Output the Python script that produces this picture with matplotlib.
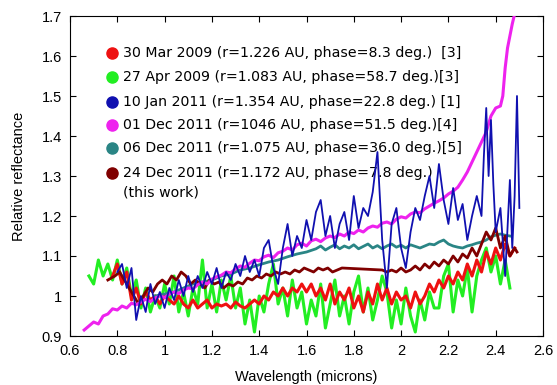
import matplotlib
matplotlib.use('Agg')
import matplotlib.pyplot as plt
import numpy as np
from matplotlib.ticker import FormatStrFormatter

# ---- data ----
# 01 Dec 2011 (magenta)
wl_mag = [0.66, 0.68, 0.70, 0.72, 0.74, 0.76, 0.78, 0.80, 0.82, 0.84, 0.86, 0.88, 0.90, 0.92, 0.94, 0.96,
          0.98, 1.00, 1.02, 1.04, 1.06, 1.08, 1.10, 1.12, 1.14, 1.16, 1.18, 1.20, 1.22, 1.24, 1.26, 1.28,
          1.30, 1.32, 1.34, 1.36, 1.38, 1.40, 1.42, 1.44, 1.46, 1.48, 1.50, 1.52, 1.54, 1.56, 1.58, 1.60,
          1.62, 1.64, 1.66, 1.68, 1.70, 1.72, 1.74, 1.76, 1.78, 1.80, 1.82, 1.84, 1.86, 1.88, 1.90, 1.92,
          1.94, 1.96, 1.98, 2.00, 2.02, 2.04, 2.06, 2.08, 2.10, 2.12, 2.14, 2.16, 2.18, 2.20, 2.22, 2.24,
          2.26, 2.28, 2.30, 2.32, 2.34, 2.36, 2.38, 2.40, 2.42, 2.43, 2.44, 2.45, 2.47, 2.49]
rf_mag = [0.915, 0.925, 0.935, 0.930, 0.950, 0.955, 0.968, 0.965, 0.975, 0.970, 0.982, 0.978, 0.985, 0.992, 0.986, 0.995,
          1.000, 0.996, 1.005, 1.010, 1.006, 1.015, 1.020, 1.018, 1.028, 1.035, 1.030, 1.042, 1.048, 1.052, 1.060, 1.058,
          1.068, 1.075, 1.072, 1.082, 1.090, 1.088, 1.098, 1.102, 1.096, 1.108, 1.112, 1.120, 1.115, 1.128, 1.132, 1.125,
          1.138, 1.142, 1.136, 1.145, 1.150, 1.146, 1.155, 1.150, 1.160, 1.156, 1.165, 1.160, 1.170, 1.175, 1.172, 1.182,
          1.185, 1.180, 1.192, 1.198, 1.195, 1.205, 1.210, 1.208, 1.218, 1.225, 1.232, 1.238, 1.245, 1.255, 1.262, 1.272,
          1.290, 1.310, 1.335, 1.360, 1.385, 1.410, 1.450, 1.470, 1.475, 1.500, 1.570, 1.620, 1.680, 1.730]

# 10 Jan 2011 (blue)
wl_blue = [0.80, 0.82, 0.84, 0.86, 0.88, 0.90, 0.92, 0.94, 0.96, 0.98, 1.00, 1.02, 1.04, 1.06, 1.08, 1.10,
           1.12, 1.14, 1.16, 1.18, 1.20, 1.22, 1.24, 1.26, 1.28, 1.30, 1.32, 1.34, 1.36, 1.38, 1.40, 1.42,
           1.44, 1.46, 1.48, 1.50, 1.52, 1.54, 1.56, 1.58, 1.60, 1.62, 1.64, 1.66, 1.68, 1.70, 1.72, 1.74,
           1.76, 1.78, 1.80, 1.82, 1.84, 1.86, 1.88, 1.90, 1.92, 1.94, 1.96, 1.98, 2.00, 2.02, 2.04, 2.06,
           2.08, 2.10, 2.12, 2.14, 2.16, 2.18, 2.20, 2.22, 2.24, 2.26, 2.28, 2.30, 2.32, 2.34, 2.35, 2.36,
           2.37, 2.38, 2.39, 2.40, 2.42, 2.44, 2.46, 2.47, 2.48, 2.49, 2.50]
rf_blue = [1.06, 1.08, 1.02, 1.07, 0.94, 1.00, 0.96, 1.03, 0.98, 1.01, 0.97, 1.02, 0.99, 1.04, 1.00, 1.05,
           1.01, 1.05, 1.02, 1.06, 1.03, 1.07, 1.02, 1.06, 1.04, 1.08, 1.05, 1.10, 1.06, 1.09, 1.05, 1.12,
           1.14, 1.07, 1.03, 1.12, 1.18, 1.10, 1.15, 1.12, 1.19, 1.14, 1.21, 1.24, 1.15, 1.20, 1.12, 1.18,
           1.21, 1.14, 1.25, 1.17, 1.22, 1.20, 1.26, 1.36, 1.14, 1.02, 1.18, 1.22, 1.12, 1.07, 1.16, 1.22,
           1.19, 1.25, 1.30, 1.22, 1.33, 1.24, 1.18, 1.27, 1.19, 1.23, 1.14, 1.20, 1.25, 1.20, 1.35, 1.47,
           1.30, 1.44, 1.28, 1.16, 1.22, 1.05, 1.29, 1.12, 1.25, 1.50, 1.22]

# 30 Mar 2009 (red)
wl_red = [0.78, 0.80, 0.82, 0.84, 0.86, 0.88, 0.90, 0.92, 0.94, 0.96, 0.98, 1.00, 1.02, 1.04, 1.06, 1.08,
          1.10, 1.12, 1.14, 1.16, 1.18, 1.20, 1.22, 1.24, 1.26, 1.28, 1.30, 1.32, 1.34, 1.36, 1.38, 1.40,
          1.42, 1.44, 1.46, 1.48, 1.50, 1.52, 1.54, 1.56, 1.58, 1.60, 1.62, 1.64, 1.66, 1.68, 1.70, 1.72,
          1.74, 1.76, 1.78, 1.80, 1.82, 1.84, 1.86, 1.88, 1.90, 1.92, 1.94, 1.96, 1.98, 2.00, 2.02, 2.04,
          2.06, 2.08, 2.10, 2.12, 2.14, 2.16, 2.18, 2.20, 2.22, 2.24, 2.26, 2.28, 2.30, 2.32, 2.34, 2.36,
          2.38, 2.40, 2.42, 2.44, 2.46, 2.48]
rf_red = [1.05, 1.08, 1.03, 1.06, 0.99, 1.02, 0.98, 1.01, 0.99, 1.00, 0.98, 1.00, 0.99, 0.98, 1.00, 0.98,
          0.97, 0.99, 0.97, 0.98, 0.99, 0.97, 0.98, 0.975, 0.98, 0.97, 0.985, 0.975, 0.97, 0.98, 0.99, 0.98,
          1.00, 0.99, 1.01, 1.00, 1.02, 1.00, 1.02, 1.01, 1.03, 1.01, 1.03, 1.00, 1.02, 0.99, 1.03, 0.98,
          1.01, 0.99, 1.02, 0.97, 1.00, 0.96, 1.01, 0.98, 1.03, 0.99, 1.02, 0.98, 1.01, 0.99, 1.00, 0.97,
          1.01, 0.98, 1.00, 1.03, 1.01, 1.04, 1.02, 1.05, 1.03, 1.06, 1.04, 1.08, 1.05, 1.09, 1.06, 1.11,
          1.08, 1.12, 1.09, 1.13, 1.10, 1.12]

# 27 Apr 2009 (green)
wl_green = [0.68, 0.70, 0.72, 0.74, 0.76, 0.78, 0.80, 0.82, 0.84, 0.86, 0.88, 0.90, 0.92, 0.94, 0.96, 0.98,
            1.00, 1.02, 1.04, 1.06, 1.08, 1.10, 1.12, 1.14, 1.16, 1.18, 1.20, 1.22, 1.24, 1.26, 1.28, 1.30,
            1.32, 1.34, 1.36, 1.38, 1.40, 1.42, 1.44, 1.46, 1.48, 1.50, 1.52, 1.54, 1.56, 1.58, 1.60, 1.62,
            1.64, 1.66, 1.68, 1.70, 1.72, 1.74, 1.76, 1.78, 1.80, 1.82, 1.84, 1.86, 1.88, 1.90, 1.92, 1.94,
            1.96, 1.98, 2.00, 2.02, 2.04, 2.06, 2.08, 2.10, 2.12, 2.14, 2.16, 2.18, 2.20, 2.22, 2.24, 2.26,
            2.28, 2.30, 2.32, 2.34, 2.36, 2.38, 2.40, 2.42, 2.44, 2.46]
rf_green = [1.05, 1.03, 1.09, 1.05, 1.08, 1.04, 1.09, 1.03, 1.07, 1.00, 1.04, 0.97, 1.02, 0.96, 1.00, 0.97,
            1.03, 0.98, 1.05, 0.96, 1.01, 0.95, 1.02, 0.98, 1.09, 0.97, 1.03, 0.96, 1.04, 0.99, 1.05, 0.97,
            1.02, 0.93, 0.99, 0.91, 1.00, 0.96, 1.03, 1.08, 0.98, 1.02, 0.95, 1.04, 0.97, 1.01, 0.93, 0.99,
            0.95, 1.03, 0.92, 0.98, 1.04, 0.95, 1.00, 0.93, 1.01, 1.05, 0.96, 1.02, 0.94, 0.99, 1.05, 1.01,
            0.92, 0.99, 0.93, 1.02, 0.95, 0.91, 0.99, 0.94, 1.01, 0.97, 0.97, 1.05, 1.08, 0.96, 1.04, 1.00,
            1.07, 0.96, 1.05, 1.09, 1.12, 1.06, 1.10, 1.03, 1.09, 1.02]

# 06 Dec 2011 (teal)
wl_teal = [0.96, 1.00, 1.04, 1.08, 1.12, 1.16, 1.20, 1.24, 1.28, 1.32, 1.36, 1.40, 1.44, 1.48, 1.52, 1.56,
           1.60, 1.64, 1.66, 1.68, 1.70, 1.72, 1.74, 1.76, 1.78, 1.80, 1.82, 1.84, 1.86, 1.88, 1.90, 1.92,
           1.94, 1.96, 1.98, 2.00, 2.02, 2.04, 2.06, 2.08, 2.10, 2.12, 2.14, 2.16, 2.18, 2.20, 2.22, 2.24,
           2.26, 2.28, 2.30, 2.32, 2.34, 2.36, 2.38, 2.40, 2.42, 2.44, 2.46]
rf_teal = [1.000, 1.005, 1.010, 1.020, 1.030, 1.035, 1.040, 1.050, 1.055, 1.065, 1.070, 1.078, 1.085, 1.090, 1.098, 1.105,
           1.110, 1.118, 1.125, 1.115, 1.122, 1.128, 1.118, 1.125, 1.120, 1.128, 1.118, 1.124, 1.130, 1.120, 1.126, 1.118,
           1.125, 1.130, 1.122, 1.127, 1.120, 1.128, 1.124, 1.120, 1.125, 1.130, 1.128, 1.135, 1.140, 1.130, 1.125, 1.122,
           1.120, 1.125, 1.128, 1.132, 1.135, 1.140, 1.148, 1.152, 1.155, 1.152, 1.150]

# 24 Dec 2011 (dark red, this work)
wl_dark = [0.76, 0.79, 0.81, 0.83, 0.85, 0.87, 0.89, 0.91, 0.93, 0.95, 0.97, 0.99, 1.01, 1.03, 1.05, 1.07,
           1.09, 1.11, 1.13, 1.15, 1.17, 1.19, 1.21, 1.23, 1.25, 1.27, 1.29, 1.31, 1.33, 1.35, 1.37, 1.39,
           1.41, 1.43, 1.45, 1.47, 1.49, 1.51, 1.53, 1.55, 1.57, 1.59, 1.61, 1.63, 1.65, 1.67, 1.69, 1.71,
           1.73, 1.75, 1.92, 1.94, 1.96, 1.98, 2.00, 2.02, 2.04, 2.06, 2.08, 2.10, 2.12, 2.14, 2.16, 2.18,
           2.20, 2.22, 2.24, 2.26, 2.28, 2.30, 2.32, 2.34, 2.36, 2.38, 2.40, 2.42, 2.44, 2.46, 2.48, 2.49]
rf_dark = [1.04, 1.05, 1.06, 1.04, 1.02, 1.00, 0.98, 1.00, 1.02, 1.01, 1.03, 1.04, 1.03, 1.05, 1.04, 1.06,
           1.05, 1.03, 1.04, 1.03, 1.02, 1.04, 1.03, 1.035, 1.02, 1.03, 1.025, 1.035, 1.03, 1.045, 1.04, 1.05,
           1.045, 1.055, 1.05, 1.06, 1.055, 1.06, 1.055, 1.065, 1.06, 1.07, 1.065, 1.06, 1.07, 1.065, 1.07, 1.06,
           1.065, 1.07, 1.065, 1.06, 1.065, 1.06, 1.07, 1.06, 1.065, 1.075, 1.065, 1.08, 1.07, 1.085, 1.075, 1.09,
           1.08, 1.10, 1.085, 1.105, 1.095, 1.12, 1.10, 1.13, 1.16, 1.14, 1.17, 1.12, 1.15, 1.10, 1.12, 1.11]

labels = ['30 Mar 2009 (r=1.226 AU, phase=8.3 deg.)  [3]',
          '27 Apr 2009 (r=1.083 AU, phase=58.7 deg.)[3]',
          '10 Jan 2011 (r=1.354 AU, phase=22.8 deg.) [1]',
          '01 Dec 2011 (r=1046 AU, phase=51.5 deg.)[4]',
          '06 Dec 2011 (r=1.075 AU, phase=36.0 deg.)[5]',
          '24 Dec 2011 (r=1.172 AU, phase=7.8 deg.)']
note = '(this work)'
colors = ['#ee1111', '#22ee22', '#1010b0', '#ee22ee', '#2a8585', '#800000']

fig = plt.figure(figsize=(5.57, 3.85), dpi=100)
ax = fig.add_axes([70/557, 49/385, 473/557, 320/385])

ax.plot(wl_green, rf_green, color=colors[1], lw=2.2, zorder=3)
ax.plot(wl_red, rf_red, color=colors[0], lw=2.2, zorder=3)
ax.plot(wl_teal, rf_teal, color=colors[4], lw=2.0, zorder=3)
ax.plot(wl_dark, rf_dark, color=colors[5], lw=2.0, zorder=3)
ax.plot(wl_mag, rf_mag, color=colors[3], lw=2.2, zorder=3)
ax.plot(wl_blue, rf_blue, color=colors[2], lw=1.3, zorder=4)

# hand-made legend: dots + text
row_y = [0.884, 0.809, 0.731, 0.659, 0.5875, 0.509]
for c, lab, yy in zip(colors, labels, row_y):
    ax.plot([0.0888], [yy], 'o', color=c, ms=8, transform=ax.transAxes, zorder=2, clip_on=False)
    ax.text(0.112, yy, lab, transform=ax.transAxes, fontsize=10.2, family='DejaVu Sans',
            va='center', ha='left', zorder=1)
ax.text(0.112, 0.447, note, transform=ax.transAxes, fontsize=10.2, family='DejaVu Sans',
        va='center', ha='left', zorder=1)

ax.set_xlim(0.6, 2.6)
ax.set_ylim(0.9, 1.7)
ax.set_xticks([0.6, 0.8, 1.0, 1.2, 1.4, 1.6, 1.8, 2.0, 2.2, 2.4, 2.6])
ax.set_yticks([0.9, 1.0, 1.1, 1.2, 1.3, 1.4, 1.5, 1.6, 1.7])
ax.xaxis.set_major_formatter(FormatStrFormatter('%g'))
ax.yaxis.set_major_formatter(FormatStrFormatter('%g'))
ax.tick_params(direction='in', top=True, right=True, length=4, width=0.8, labelsize=10.5, pad=6)
for lab in ax.get_xticklabels() + ax.get_yticklabels():
    lab.set_family('Liberation Sans')
for s in ax.spines.values():
    s.set_linewidth(0.8)

fig.text(306/557, 4/385, 'Wavelength (microns)', ha='center', va='baseline', fontsize=10.5, family='Liberation Sans')
fig.text(19/557, 1 - 176/385, 'Relative reflectance', rotation=90, ha='center', va='center',
         fontsize=10.5, family='Liberation Sans')

plt.savefig('out.png', dpi=100)
